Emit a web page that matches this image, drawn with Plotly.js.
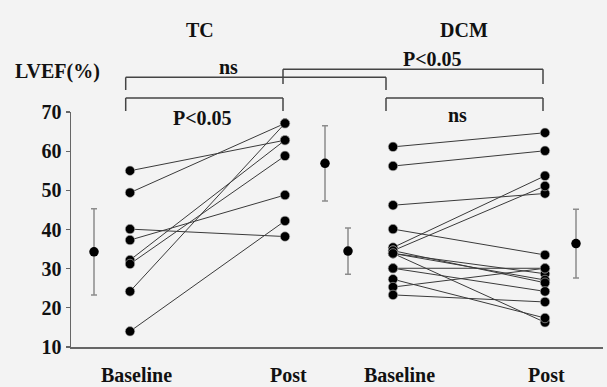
<!DOCTYPE html>
<html>
<head>
<meta charset="utf-8">
<script src="https://cdn.plot.ly/plotly-3.0.1.min.js"></script>
<style>html,body{margin:0;padding:0;background:#f3f3f3;}#chart{width:607px;height:387px;}</style>
</head>
<body>
<div id="chart"></div>
<script>
// ---- data (LVEF %) ----
const groupLabels = ["TC", "DCM"];
const timeLabels = ["Baseline", "Post", "Baseline", "Post"];
const tcBaseline = [55.0, 49.4, 40.1, 37.3, 32.2, 31.2, 24.2, 14.0];
const tcPost     = [62.8, 67.1, 38.2, 48.8, 62.8, 58.8, 67.1, 42.2];
const dcmBaseline = [61.1, 56.2, 46.2, 40.1, 35.4, 34.6, 33.9, 33.9, 34.6, 33.9, 30.1, 30.1, 27.3, 25.3, 23.3];
const dcmPost     = [64.7, 60.1, 49.2, 33.5, 53.7, 51.1, 28.7, 27.1, 26.4, 16.3, 30.1, 24.2, 17.4, 30.1, 21.5];
const meanValues = [34.3, 56.9, 34.5, 36.4];
const sdValues   = [11.0, 9.6, 5.9, 8.8];
const yTicks = [10, 20, 30, 40, 50, 60, 70];
const comparisons = [
  {text: "ns",     from: 0, to: 2, level: "upper"},
  {text: "P<0.05", from: 1, to: 3, level: "upper2"},
  {text: "P<0.05", from: 0, to: 1, level: "lower"},
  {text: "ns",     from: 2, to: 3, level: "lower"}
];

// ---- layout positions (x axis units = pixels from plot left) ----
const XMAX = 532;
const columnX = [59, 214, 322, 474];
const meanX   = [23, 254, 277, 505];
const labelX  = [65, 217, 328, 475];
const bracketX = [54.7, 212, 315, 472];
const PLOT_TOP = 112, PLOT_BOTTOM = 347;
function py(p) { return (PLOT_BOTTOM - p) / (PLOT_BOTTOM - PLOT_TOP); }
function pxp(x) { return x / XMAX; }

const FONT = {family: "Liberation Serif, 'Times New Roman', serif", size: 20, color: "#111", weight: "bold"};

// connecting lines
const lx = [], ly = [];
function addPairs(b, p, xb, xp) {
  for (let i = 0; i < b.length; i++) {
    lx.push(xb, xp, null); ly.push(b[i], p[i], null);
  }
}
addPairs(tcBaseline, tcPost, columnX[0], columnX[1]);
addPairs(dcmBaseline, dcmPost, columnX[2], columnX[3]);

const mx = [], my = [];
[[tcBaseline, 0], [tcPost, 1], [dcmBaseline, 2], [dcmPost, 3]].forEach(([arr, c]) => {
  arr.forEach(v => { mx.push(columnX[c]); my.push(v); });
});

const traces = [
  {x: lx, y: ly, mode: "lines", line: {color: "#3a3a3a", width: 1}, hoverinfo: "skip", cliponaxis: false},
  {x: mx, y: my, mode: "markers", marker: {color: "#000", size: 9.5, line: {color: "#bbb", width: 0.6}}, cliponaxis: false},
  {x: meanX, y: meanValues, mode: "markers", marker: {color: "#000", size: 9.5},
   error_y: {type: "data", array: sdValues, visible: true, color: "#8c8c8c", thickness: 1.5, width: 3}, cliponaxis: false}
];

// brackets
const levels = {
  upper:  {top: 77.3, bottom: 90},
  upper2: {top: 69.3, bottom: 84},
  lower:  {top: 98, bottom: 111}
};
const textPos = [
  {x: 228, y: 66.5},
  {x: 432, y: 59},
  {x: 202, y: 117.5},
  {x: 457, y: 115.5}
];
const shapes = [];
const annotations = [];
comparisons.forEach((c, i) => {
  const L = levels[c.level];
  const x0 = pxp(bracketX[c.from]), x1 = pxp(bracketX[c.to]);
  const lineStyle = {color: "#444", width: 1.5};
  shapes.push({type: "line", xref: "paper", yref: "paper", x0: x0, x1: x1, y0: py(L.top), y1: py(L.top), line: lineStyle});
  shapes.push({type: "line", xref: "paper", yref: "paper", x0: x0, x1: x0, y0: py(L.top), y1: py(L.bottom), line: lineStyle});
  shapes.push({type: "line", xref: "paper", yref: "paper", x0: x1, x1: x1, y0: py(L.top), y1: py(L.bottom), line: lineStyle});
  annotations.push({text: c.text, xref: "paper", yref: "paper", x: pxp(textPos[i].x - 71), y: py(textPos[i].y),
    xanchor: "center", yanchor: "middle", showarrow: false, font: FONT});
});
groupLabels.forEach((g, i) => {
  annotations.push({text: g, xref: "paper", yref: "paper", x: pxp([200, 464][i] - 71), y: py(29.5),
    xanchor: "center", yanchor: "middle", showarrow: false, font: FONT});
});
annotations.push({text: "LVEF(%)", xref: "paper", yref: "paper", x: pxp(57 - 71), y: py(71.5),
  xanchor: "center", yanchor: "middle", showarrow: false, font: FONT});
timeLabels.forEach((t, i) => {
  annotations.push({text: t, xref: "paper", yref: "paper", x: pxp(labelX[i]), y: py(374.5),
    xanchor: "center", yanchor: "middle", showarrow: false, font: FONT});
});

const layout = {
  width: 607, height: 387,
  margin: {l: 71, r: 4, t: PLOT_TOP, b: 387 - PLOT_BOTTOM},
  paper_bgcolor: "#f3f3f3", plot_bgcolor: "#f3f3f3",
  showlegend: false,
  xaxis: {range: [0, XMAX], showline: true, linecolor: "#666", linewidth: 1.5, showgrid: false, zeroline: false,
    showticklabels: false, ticks: "", fixedrange: true},
  yaxis: {range: [10, 70], tickvals: yTicks, ticktext: yTicks.map(String), showline: true, linecolor: "#666", linewidth: 1.5,
    ticks: "outside", ticklen: 4, tickcolor: "#666", tickwidth: 1.2, showgrid: false, zeroline: false, tickfont: FONT, fixedrange: true},
  shapes: shapes,
  annotations: annotations
};

Plotly.newPlot("chart", traces, layout, {displayModeBar: false, staticPlot: true});
</script>
</body>
</html>
